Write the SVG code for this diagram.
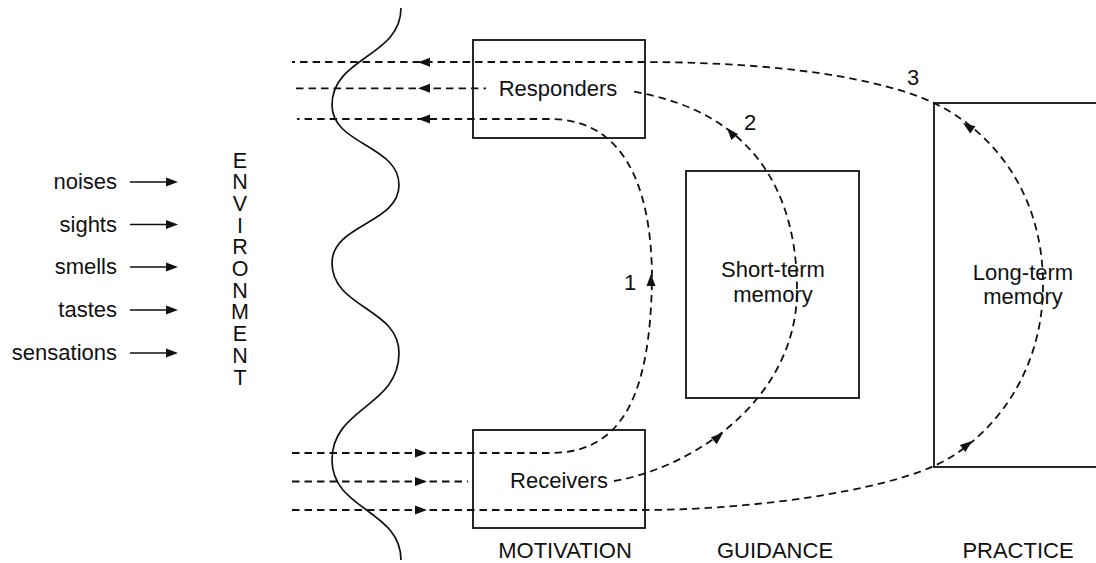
<svg xmlns="http://www.w3.org/2000/svg" xmlns:xlink="http://www.w3.org/1999/xlink" width="1096" height="563" viewBox="0 0 1096 563">
<style>
text{font-family:"Liberation Sans",Arial,sans-serif;font-size:22px;fill:#111}
.box{fill:none;stroke:#111;stroke-width:1.8}
.dash{fill:none;stroke:#111;stroke-width:1.8;stroke-dasharray:7.5 5}
.solid{fill:none;stroke:#111;stroke-width:1.7}
.mid{text-anchor:middle}
.end{text-anchor:end}
.vert{writing-mode:vertical-rl;text-orientation:upright;font-size:21.5px;letter-spacing:-2.3px}
</style>
<defs>
<path id="ah" d="M0,0 L-12,-4.5 L-12,4.5 Z" fill="#111"/>
</defs>
<rect width="1096" height="563" fill="#fff"/>

<g id="inputs">
<text class="end" x="117" y="189">noises</text>
<text class="end" x="117" y="231.5">sights</text>
<text class="end" x="117" y="274">smells</text>
<text class="end" x="117" y="317">tastes</text>
<text class="end" x="117" y="360">sensations</text>
<path class="solid" d="M130,182H170M130,224.5H170M130,267H170M130,310H170M130,353H170"/>
<use xlink:href="#ah" href="#ah" transform="translate(178,182)"/>
<use xlink:href="#ah" href="#ah" transform="translate(178,224.5)"/>
<use xlink:href="#ah" href="#ah" transform="translate(178,267)"/>
<use xlink:href="#ah" href="#ah" transform="translate(178,310)"/>
<use xlink:href="#ah" href="#ah" transform="translate(178,353)"/>
</g>

<g id="environment">
<text class="vert" x="240" y="148.5">ENVIRONMENT</text>
</g>

<g id="boundary">
<path class="solid" stroke-width="1.8" d="M401,8 C401,57 332,57 332,105 C332,145 399,145 399,185 C399,224 332,224 332,263 C332,308 399,308 399,353 C399,407 332,407 332,460 C332,510 401,510 401,560"/>
</g>

<g id="responders">
<rect class="box" x="473" y="40" width="172" height="98"/>
<text class="mid" x="558" y="96">Responders</text>
</g>

<g id="receivers">
<rect class="box" x="473" y="430" width="172" height="98"/>
<text class="mid" x="559" y="487.5">Receivers</text>
</g>

<g id="short-term">
<rect class="box" x="686" y="171" width="173" height="227"/>
<text class="mid" x="773" y="277">Short-term</text>
<text class="mid" x="773" y="302">memory</text>
</g>

<g id="long-term">
<rect class="box" x="934" y="103" width="170" height="364"/>
<text class="mid" x="1023" y="279.5">Long-term</text>
<text class="mid" x="1023" y="304">memory</text>
</g>

<g id="connectors">
<path class="dash" d="M292,453 H550 C620,453 650,400 652,280 C652,180 620,119 550,119 H297"/>
<path class="dash" d="M614,481 C692,468 797,400 797,290 C797,200 760,112 630,91"/>
<path class="dash" d="M292,481.5 H468"/>
<path class="dash" d="M296,88.3 H486"/>
<path class="dash" d="M292,510 H640 C760,510 880,490 934,466 C985,443 1043,380 1043,285 C1043,190 990,130 934,103 C880,78 780,62 640,62 H292"/>
<use xlink:href="#ah" href="#ah" transform="translate(418,62.3) rotate(180)"/>
<use xlink:href="#ah" href="#ah" transform="translate(418,88.3) rotate(180)"/>
<use xlink:href="#ah" href="#ah" transform="translate(418,119) rotate(180)"/>
<use xlink:href="#ah" href="#ah" transform="translate(427,453)"/>
<use xlink:href="#ah" href="#ah" transform="translate(427,481.5)"/>
<use xlink:href="#ah" href="#ah" transform="translate(427,510)"/>
<use xlink:href="#ah" href="#ah" transform="translate(651,274) rotate(-90)"/>
<use xlink:href="#ah" href="#ah" transform="translate(727,128) rotate(-130)"/>
<use xlink:href="#ah" href="#ah" transform="translate(723,433) rotate(-40)"/>
<use xlink:href="#ah" href="#ah" transform="translate(963,123) rotate(-145)"/>
<use xlink:href="#ah" href="#ah" transform="translate(972,441) rotate(-39)"/>
</g>

<g id="labels">
<text class="mid" x="630" y="290">1</text>
<text class="mid" x="750" y="130">2</text>
<text class="mid" x="913" y="85">3</text>
<text class="mid" x="565" y="558">MOTIVATION</text>
<text class="mid" x="775" y="558">GUIDANCE</text>
<text class="mid" x="1018" y="558">PRACTICE</text>
</g>
</svg>
